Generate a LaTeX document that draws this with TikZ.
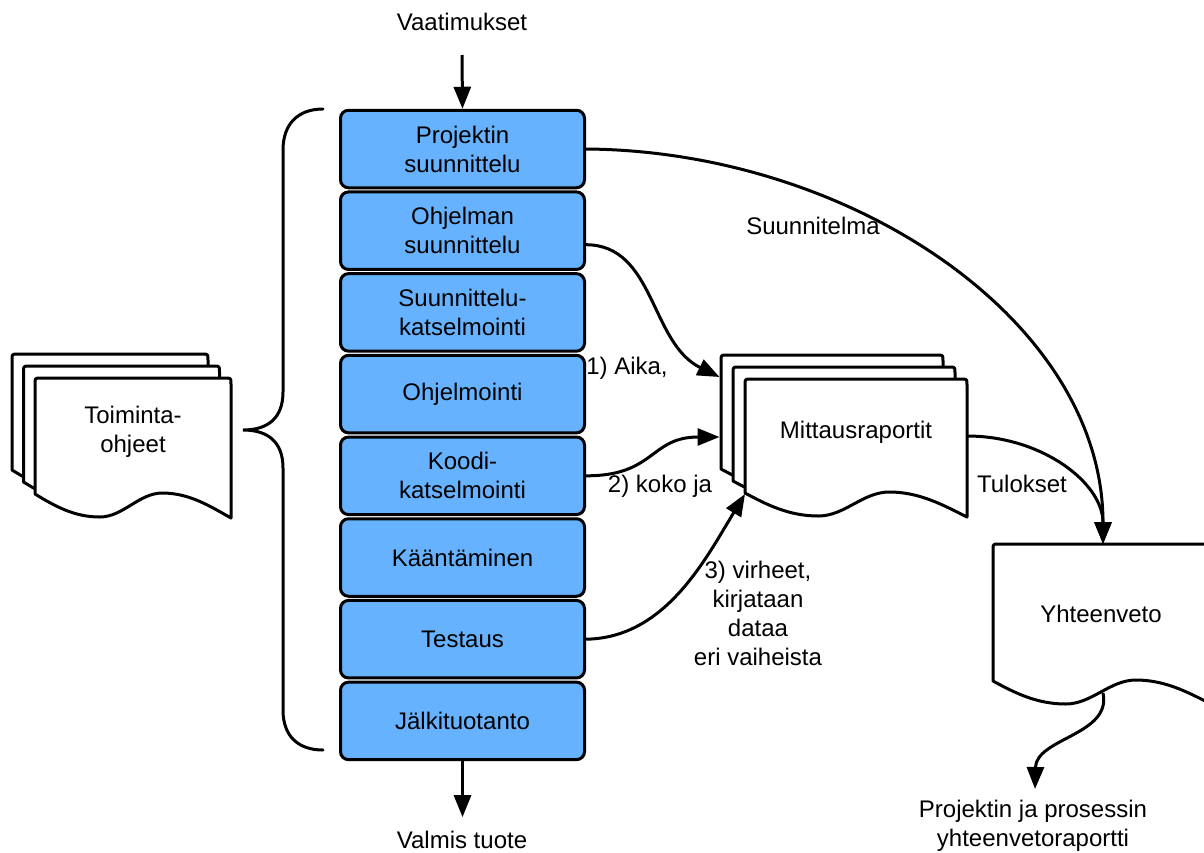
\documentclass[tikz,border=0pt]{standalone}
\usepackage{fontspec}
\setmainfont{Liberation Sans}
\usetikzlibrary{arrows.meta}

\definecolor{stepblue}{RGB}{102,178,255}

% Document sheet with rounded top corners and a wavy bottom edge.
% #1 = left x, #2 = top y, #3 = width, #4 = height of the left edge
\newcommand\DocSheet[4]{%
  \filldraw[docline]
    (#1,#2+#4) -- (#1,#2+6) .. controls (#1,#2) .. (#1+6,#2)
    -- (#1+#3-6,#2) .. controls (#1+#3,#2) .. (#1+#3,#2+6)
    -- (#1+#3,#2+#4+24)
    .. controls (#1+0.9*#3,#2+#4+13) and (#1+0.79*#3,#2+#4-1) .. (#1+0.65*#3,#2+#4-1)
    .. controls (#1+0.53*#3,#2+#4-1) and (#1+0.45*#3,#2+#4+23) .. (#1+0.33*#3,#2+#4+23)
    .. controls (#1+0.2*#3,#2+#4+23) and (#1+0.1*#3,#2+#4+12) .. cycle;
}

\tikzset{
  txt/.style={font=\fontsize{24}{29}\selectfont, align=center, inner sep=0pt},
  stepbox/.style={txt, draw, fill=stepblue, line width=3pt, rounded corners=8pt,
    minimum width=244pt, minimum height=77.5pt},
  docline/.style={fill=white, draw=black, line width=3pt, line join=round},
  arr/.style={line width=3pt, -{Triangle[length=22pt,width=17pt]}},
  conn/.style={line width=3pt},
}

\begin{document}
\begin{tikzpicture}[x=1pt, y=-1pt]
\useasboundingbox (0,0) rectangle (1204,852);
\clip (0,0) rectangle (1204,852);

% process steps
\node[stepbox] (p1) at (462.5,149.0) {Projektin\\suunnittelu};
\node[stepbox] (p2) at (462.5,230.7) {Ohjelman\\suunnittelu};
\node[stepbox] (p3) at (462.5,312.4) {Suunnittelu-\\katselmointi};
\node[stepbox] (p4) at (462.5,394.1) {Ohjelmointi};
\node[stepbox] (p5) at (462.5,475.8) {Koodi-\\katselmointi};
\node[stepbox] (p6) at (462.5,557.5) {Kääntäminen};
\node[stepbox] (p7) at (462.5,639.2) {Testaus};
\node[stepbox] (p8) at (462.5,720.9) {Jälkituotanto};

% input and output
\node[txt] (vaat) at (462,22) {Vaatimukset};
\node[txt] (valmis) at (462,840) {Valmis tuote};
\draw[arr] (vaat) ++(0,33) -- (p1.north);
\draw[arr] (p8.south) -- ++(0,56) coordinate (valmis-in);

% brace grouping the steps
\draw[conn, line cap=round]
  (323,109) .. controls (298,109) and (283,124) .. (283,150)
  -- (283,392) .. controls (283,418) and (268,430) .. (243,430)
  .. controls (268,430) and (283,442) .. (283,468)
  -- (283,710) .. controls (283,736) and (298,750) .. (323,750);

% instructions document stack
\DocSheet{12}{354}{196}{116}
\DocSheet{23.5}{366}{196}{116}
\DocSheet{35}{378}{196}{116}
\node[txt] (toim) at (133,432) {Toiminta-\\ohjeet};

% measurement reports stack
\DocSheet{721}{355}{222}{114}
\DocSheet{733}{367}{222}{114}
\DocSheet{745}{379}{222}{114}
\node[txt] (mitt) at (856,432) {Mittausraportit};
\coordinate (mitt-a) at (719.5,377);
\coordinate (mitt-b) at (719.5,437);
\coordinate (mitt-c) at (745,494);
\coordinate (mitt-out) at (967,436);

% summary document
\DocSheet{993}{544}{220}{137}
\node[txt] (yht) at (1101,614) {Yhteenveto};
\coordinate (yht-in) at (1103,544);
\coordinate (yht-out) at (1103,693);

% final report
\node[txt] (rap) at (1033,826) {Projektin ja prosessin\\yhteenvetoraportti};
\coordinate (rap-in) at (1035,789);

% connectors
\draw[arr] (p1.east) .. controls (850,151) and (1103,320) .. (yht-in);
\draw[arr] ([yshift=-14pt]p2.east) .. controls (655,245) and (650,343) .. (mitt-a);
\draw[arr] (p5.east) .. controls (655,476) and (650,437) .. (mitt-b);
\draw[arr] (p7.east) .. controls (665,638) and (705,560) .. (mitt-c);
\draw[arr] (mitt-out) .. controls (1042,436) and (1103,483) .. (yht-in);
\draw[arr] (yht-out) .. controls (1112,735) and (1036,738) .. (rap-in);

% connector labels
\node[txt] (l-suun) at (813,226) {Suunnitelma};
\node[txt] (l-aika) at (627,368) {1) Aika,};
\node[txt] (l-koko) at (660,486) {2) koko ja};
\node[txt] (l-virh) at (758,613) {3) virheet,\\kirjataan\\dataa\\eri vaiheista};
\node[txt] (l-tul) at (1022,484) {Tulokset};
\end{tikzpicture}
\end{document}
